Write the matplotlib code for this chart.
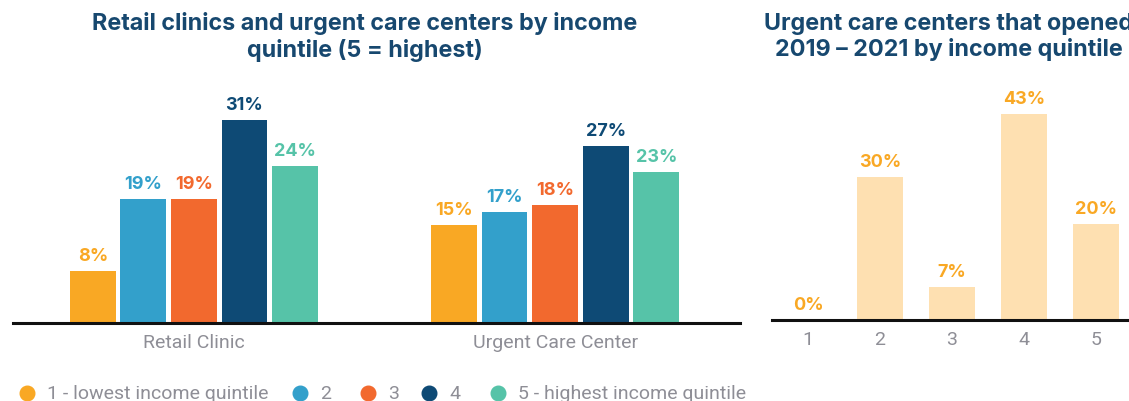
import matplotlib.pyplot as plt
import numpy as np

# data
groups = ['Retail Clinic', 'Urgent Care Center']
quintiles = ['1 - lowest income quintile', '2', '3', '4', '5 - highest income quintile']
retail = [8, 19, 19, 31, 24]
urgent = [15, 17, 18, 27, 23]
opened_q = ['1', '2', '3', '4', '5']
opened = [0, 30, 7, 43, 20]

colors = ['#F9A824', '#33A0CB', '#F2692E', '#0E4A75', '#56C3A8']
navy = '#17486F'
grey = '#8E8E96'
light = '#FEE0B1'

W, H = 1129, 402
fig = plt.figure(figsize=(W / 100, H / 100), dpi=100)

def box(x0, y0, x1, y1):
    # pixel box (top-left origin) -> figure fraction
    return [x0 / W, 1 - y1 / H, (x1 - x0) / W, (y1 - y0) / H]

# left chart: grouped bars
ax = fig.add_axes(box(13, 80, 740, 324))
step, bw = 0.14, 0.127
x = np.arange(len(groups))
for i, q in enumerate(quintiles):
    vals = [retail[i], urgent[i]]
    pos = x + (i - 2) * step
    bars = ax.bar(pos, vals, width=bw, color=colors[i], zorder=2)
    for b, v in zip(bars, vals):
        ax.annotate(f'{v}%', (b.get_x() + b.get_width() / 2, v), xytext=(0, 5),
                    textcoords='offset points', ha='center', va='bottom',
                    color=colors[i], fontsize=13, fontweight='bold', family='Inter')
ax.set_xlim(-0.501, 1.512)
ax.set_ylim(0, 37.25)
ax.set_xticks(x)
ax.set_xticklabels(groups, color=grey, fontsize=14, family='Roboto')

# right chart: openings 2019-2021
ax2 = fig.add_axes(box(772, 80, 1129, 321))
p = np.arange(1, 6)
bars = ax2.bar(p, opened, width=0.64, color=light, zorder=2)
for b, v in zip(bars, opened):
    ax2.annotate(f'{v}%', (b.get_x() + b.get_width() / 2, v), xytext=(0, 5),
                 textcoords='offset points', ha='center', va='bottom',
                 color=colors[0], fontsize=13, fontweight='bold', family='Inter')
ax2.set_xlim(0.5, 5.458)
ax2.set_ylim(0, 50.4)
ax2.set_xticks(p)
ax2.set_xticklabels(opened_q, color=grey, fontsize=14, family='Roboto')

for a in (ax, ax2):
    for s in ['top', 'right', 'left']:
        a.spines[s].set_visible(False)
    a.spines['bottom'].set_linewidth(2.2)
    a.spines['bottom'].set_color('#111111')
    a.spines['bottom'].set_zorder(3)
    a.set_yticks([])
    a.tick_params(axis='x', length=0, pad=7)

fig.text(365 / W, 1 - 37 / H, 'Retail clinics and urgent care centers by income\nquintile (5 = highest)',
         ha='center', va='center', color=navy, fontsize=16.8, fontweight='bold',
         family='Inter', linespacing=1.2)
fig.text(949 / W, 1 - 37 / H, 'Urgent care centers that opened\n2019 – 2021 by income quintile',
         ha='center', va='center', color=navy, fontsize=16.8, fontweight='bold',
         family='Inter', linespacing=1.2)

# legend row along the bottom edge
dot_x = [27, 300, 368, 429, 498]
for xd, c, q in zip(dot_x, colors, quintiles):
    fig.lines.append(plt.Line2D([xd / W], [1 - 394 / H], marker='o', ms=10.5, ls='',
                                color=c, transform=fig.transFigure, figure=fig))
    fig.text((xd + 20) / W, 1 - 394 / H, q, ha='left', va='center', color=grey,
             fontsize=14, family='Roboto')

fig.savefig('out.png', dpi=100)
